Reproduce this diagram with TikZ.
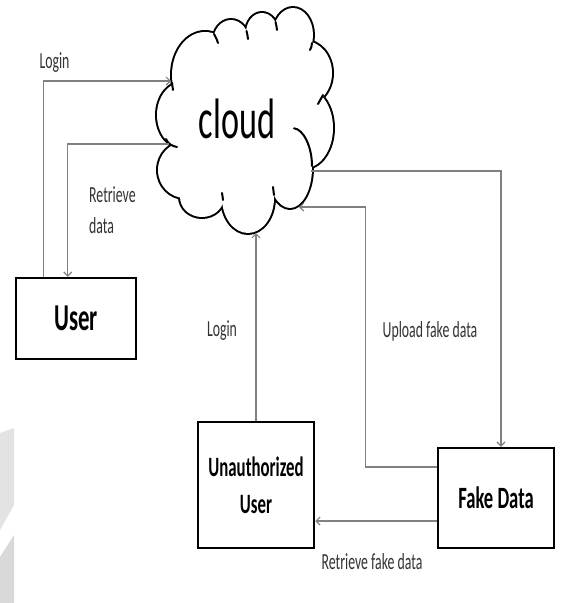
\documentclass[tikz,border=0pt]{standalone}
\usepackage{fontspec}
\setmainfont{Carlito}[FakeStretch=0.6]
\usetikzlibrary{arrows.meta}
\definecolor{conncol}{HTML}{808080}
\definecolor{lblcol}{HTML}{333333}
\definecolor{wmA}{HTML}{E3E3E3}
\definecolor{wmB}{HTML}{D9D9D9}
\begin{document}
\begin{tikzpicture}[x=1pt,y=-1pt,
  box/.style={draw=black, line width=2.5pt, fill=white, inner sep=0pt, align=center},
  conn/.style={draw=conncol, line width=1.2pt, -{Straight Barb[length=4pt,width=8pt]}},
  lbl/.style={text=lblcol, inner sep=0pt, font=\fontsize{23}{31}\selectfont},
  hook/.style={line width=2pt, line cap=round}]
\useasboundingbox (0,0) rectangle (581,603);
\fill[white] (0,0) rectangle (581,603);
% faint watermark at the left edge
\fill[wmA] (0,433) -- (14,428) -- (14,505) -- (0,530) -- cycle;
\fill[wmB] (0,557) -- (14,535) -- (14,603) -- (0,603) -- cycle;
% cloud: union of lobes
\foreach \cx/\cy/\rx/\ry in {183/115/26/33, 185/170/27/28, 202/197/22/20, 248/198/26/35, 290/168/22/40, 305/128/28/40, 305/73/27/32, 293/35/20/27, 262/33/16/20, 231/42/18/22, 205/75/33/43}
  \draw[line width=4pt] (\cx,\cy) ellipse[x radius=\rx pt, y radius=\ry pt];
\foreach \cx/\cy/\rx/\ry in {183/115/26/33, 185/170/27/28, 202/197/22/20, 248/198/26/35, 290/168/22/40, 305/128/28/40, 305/73/27/32, 293/35/20/27, 262/33/16/20, 231/42/18/22, 205/75/33/43, 243/125/65/75, 262/60/40/20}
  \fill[white] (\cx,\cy) ellipse[x radius=\rx pt, y radius=\ry pt];
% inner hooks and ticks of the cloud outline
\draw[hook] (294,128.3) .. controls (303,129) and (312,146) .. (312,166);
\draw[hook] (166,139) .. controls (168,144) and (172,146) .. (177,147);
\draw[hook] (214,34) .. controls (216,37) and (217,40) .. (218,43);
\draw[hook] (246.5,31) .. controls (247,34) and (248,36) .. (248,39);
\draw[hook] (275.5,22) .. controls (276,25) and (277,27) .. (277,30);
\draw[hook] (312,43) .. controls (312,46) and (311,48) .. (310,50);
\draw[hook] (323,95) .. controls (321,98) and (320,101) .. (318,104);
\draw[hook] (274,195) .. controls (274,192) and (273,190) .. (273,187);
\draw[hook] (223,200) .. controls (223,197) and (222,195) .. (222,193);
\draw[hook] (172,83) .. controls (172,85) and (173,88) .. (173,90);
\node[inner sep=0pt, font=\fontsize{57}{60}\selectfont, anchor=base] (cloud) at (237,138) {cloud};
% anchor points on the cloud outline
\coordinate (cA) at (171,81);
\coordinate (cB) at (169,144);
\coordinate (cC) at (311,171);
\coordinate (cD) at (299,207);
\coordinate (cE) at (256,233);
% boxes
\node[box, minimum width=120pt, minimum height=81pt, font=\bfseries\fontsize{38}{40}\selectfont] (user) at (76,318.5) {User};
\node[box, minimum width=116pt, minimum height=126pt, font=\bfseries\fontsize{28}{37}\selectfont] (unauth) at (256,485) {Unauthorized\\User};
\node[box, minimum width=116pt, minimum height=100pt, font=\bfseries\fontsize{31}{34}\selectfont] (fake) at (496,498) {Fake Data};
% connectors
\draw[conn] ([xshift=29pt]user.north west) |- (cA);
\draw[conn] (cB) -| ([xshift=53pt]user.north west);
\draw[conn] (cC) -| ([xshift=5pt]fake.north);
\draw[conn] ([yshift=31pt]fake.west) -- ++(-71,0) |- (cD);
\draw[conn] ([yshift=-23pt]fake.west) -- ([yshift=-23pt]fake.west -| unauth.east);
\draw[conn] (unauth.north) -- (cE);
% labels
\node[lbl, anchor=base] (l1) at (54.5,68) {Login};
\node[lbl, anchor=west, align=left] (l2) at (89,210) {Retrieve\\data};
\node[lbl, anchor=base] (l3) at (222,336) {Login};
\node[lbl, anchor=base] (l4) at (430,337) {Upload fake data};
\node[lbl, anchor=base] (l5) at (372,569) {Retrieve fake data};
\end{tikzpicture}
\end{document}
